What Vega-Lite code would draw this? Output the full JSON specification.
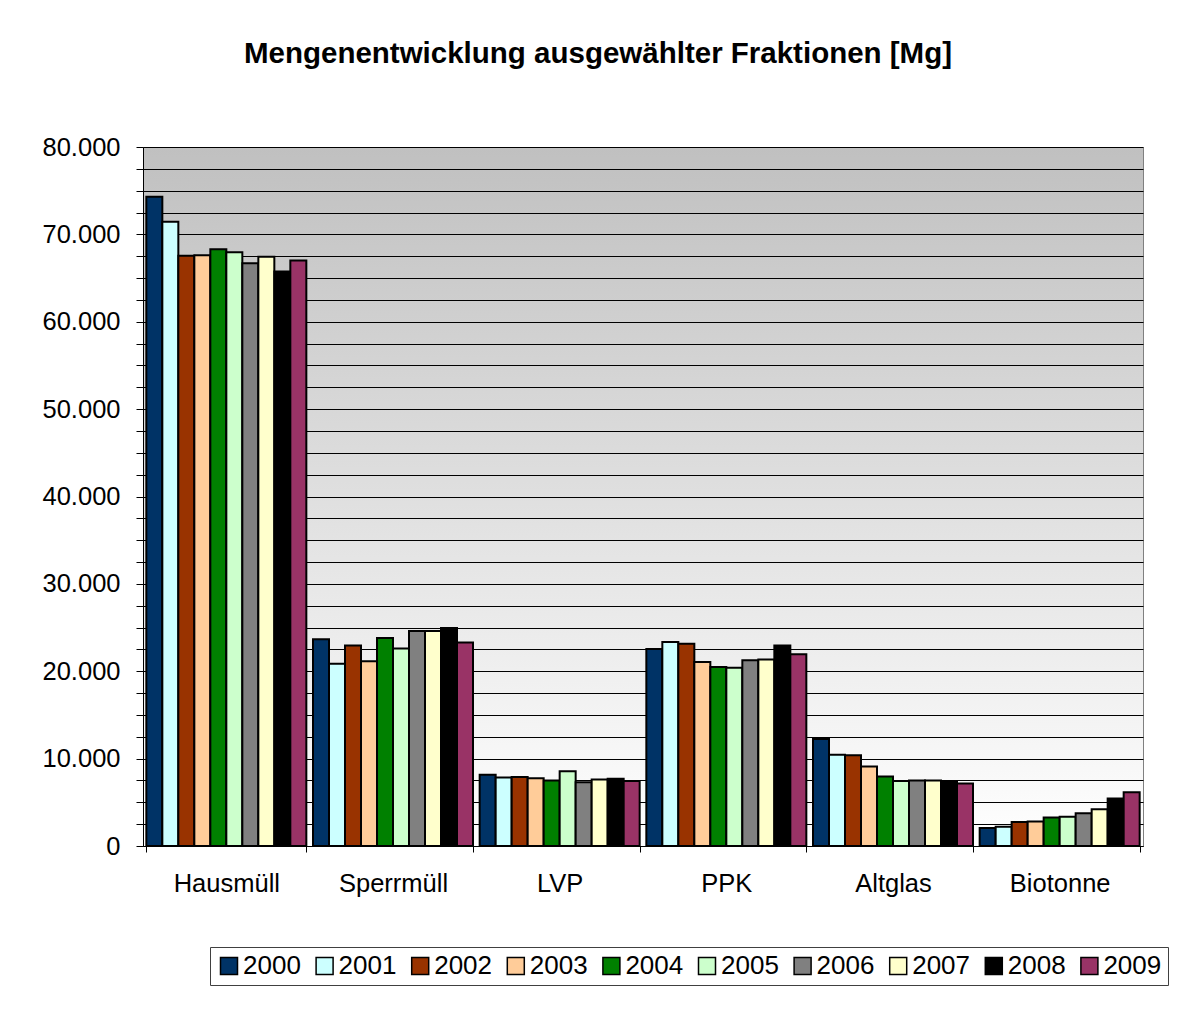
{
  "$schema": "https://vega.github.io/schema/vega-lite/v6.json",
  "width": 1000,
  "height": 699,
  "autosize": {"type": "none"},
  "padding": {"left": 143, "top": 147, "right": 43, "bottom": 186},
  "background": "white",
  "title": {
    "text": "Mengenentwicklung ausgewählter Fraktionen [Mg]",
    "font": "Liberation Sans",
    "fontSize": 29.5,
    "fontWeight": "bold",
    "color": "black",
    "anchor": "middle",
    "baseline": "alphabetic",
    "dx": -45,
    "offset": 43
  },
  "data": {
    "values": [
      {"Fraktion": "Hausmüll", "Jahr": "2000", "Menge": 74300},
      {"Fraktion": "Hausmüll", "Jahr": "2001", "Menge": 71450},
      {"Fraktion": "Hausmüll", "Jahr": "2002", "Menge": 67550},
      {"Fraktion": "Hausmüll", "Jahr": "2003", "Menge": 67600},
      {"Fraktion": "Hausmüll", "Jahr": "2004", "Menge": 68300},
      {"Fraktion": "Hausmüll", "Jahr": "2005", "Menge": 67950},
      {"Fraktion": "Hausmüll", "Jahr": "2006", "Menge": 66700},
      {"Fraktion": "Hausmüll", "Jahr": "2007", "Menge": 67450},
      {"Fraktion": "Hausmüll", "Jahr": "2008", "Menge": 65750},
      {"Fraktion": "Hausmüll", "Jahr": "2009", "Menge": 67000},
      {"Fraktion": "Sperrmüll", "Jahr": "2000", "Menge": 23650},
      {"Fraktion": "Sperrmüll", "Jahr": "2001", "Menge": 20850},
      {"Fraktion": "Sperrmüll", "Jahr": "2002", "Menge": 22950},
      {"Fraktion": "Sperrmüll", "Jahr": "2003", "Menge": 21150},
      {"Fraktion": "Sperrmüll", "Jahr": "2004", "Menge": 23800},
      {"Fraktion": "Sperrmüll", "Jahr": "2005", "Menge": 22600},
      {"Fraktion": "Sperrmüll", "Jahr": "2006", "Menge": 24600},
      {"Fraktion": "Sperrmüll", "Jahr": "2007", "Menge": 24600},
      {"Fraktion": "Sperrmüll", "Jahr": "2008", "Menge": 24950},
      {"Fraktion": "Sperrmüll", "Jahr": "2009", "Menge": 23300},
      {"Fraktion": "LVP", "Jahr": "2000", "Menge": 8150},
      {"Fraktion": "LVP", "Jahr": "2001", "Menge": 7850},
      {"Fraktion": "LVP", "Jahr": "2002", "Menge": 7900},
      {"Fraktion": "LVP", "Jahr": "2003", "Menge": 7750},
      {"Fraktion": "LVP", "Jahr": "2004", "Menge": 7500},
      {"Fraktion": "LVP", "Jahr": "2005", "Menge": 8550},
      {"Fraktion": "LVP", "Jahr": "2006", "Menge": 7300},
      {"Fraktion": "LVP", "Jahr": "2007", "Menge": 7600},
      {"Fraktion": "LVP", "Jahr": "2008", "Menge": 7700},
      {"Fraktion": "LVP", "Jahr": "2009", "Menge": 7450},
      {"Fraktion": "PPK", "Jahr": "2000", "Menge": 22550},
      {"Fraktion": "PPK", "Jahr": "2001", "Menge": 23350},
      {"Fraktion": "PPK", "Jahr": "2002", "Menge": 23150},
      {"Fraktion": "PPK", "Jahr": "2003", "Menge": 21050},
      {"Fraktion": "PPK", "Jahr": "2004", "Menge": 20500},
      {"Fraktion": "PPK", "Jahr": "2005", "Menge": 20400},
      {"Fraktion": "PPK", "Jahr": "2006", "Menge": 21250},
      {"Fraktion": "PPK", "Jahr": "2007", "Menge": 21350},
      {"Fraktion": "PPK", "Jahr": "2008", "Menge": 22950},
      {"Fraktion": "PPK", "Jahr": "2009", "Menge": 21950},
      {"Fraktion": "Altglas", "Jahr": "2000", "Menge": 12250},
      {"Fraktion": "Altglas", "Jahr": "2001", "Menge": 10450},
      {"Fraktion": "Altglas", "Jahr": "2002", "Menge": 10400},
      {"Fraktion": "Altglas", "Jahr": "2003", "Menge": 9100},
      {"Fraktion": "Altglas", "Jahr": "2004", "Menge": 7950},
      {"Fraktion": "Altglas", "Jahr": "2005", "Menge": 7450},
      {"Fraktion": "Altglas", "Jahr": "2006", "Menge": 7500},
      {"Fraktion": "Altglas", "Jahr": "2007", "Menge": 7500},
      {"Fraktion": "Altglas", "Jahr": "2008", "Menge": 7400},
      {"Fraktion": "Altglas", "Jahr": "2009", "Menge": 7150},
      {"Fraktion": "Biotonne", "Jahr": "2000", "Menge": 2050},
      {"Fraktion": "Biotonne", "Jahr": "2001", "Menge": 2200},
      {"Fraktion": "Biotonne", "Jahr": "2002", "Menge": 2750},
      {"Fraktion": "Biotonne", "Jahr": "2003", "Menge": 2800},
      {"Fraktion": "Biotonne", "Jahr": "2004", "Menge": 3250},
      {"Fraktion": "Biotonne", "Jahr": "2005", "Menge": 3350},
      {"Fraktion": "Biotonne", "Jahr": "2006", "Menge": 3750},
      {"Fraktion": "Biotonne", "Jahr": "2007", "Menge": 4200},
      {"Fraktion": "Biotonne", "Jahr": "2008", "Menge": 5450},
      {"Fraktion": "Biotonne", "Jahr": "2009", "Menge": 6150}
    ]
  },
  "mark": {"type": "bar", "stroke": "black", "strokeWidth": 2},
  "encoding": {
    "x": {
      "field": "Fraktion",
      "type": "nominal",
      "sort": ["Hausmüll", "Sperrmüll", "LVP", "PPK", "Altglas", "Biotonne"],
      "scale": {"paddingInner": 0.04, "paddingOuter": 0.02},
      "axis": {
        "title": null,
        "labelAngle": 0,
        "labelFont": "Liberation Sans",
        "labelFontSize": 25.5,
        "labelColor": "black",
        "labelPadding": 19,
        "tickBand": "extent",
        "tickSize": 6,
        "tickColor": "black",
        "domainColor": "black",
        "grid": false
      }
    },
    "xOffset": {
      "field": "Jahr",
      "type": "nominal",
      "scale": {"paddingInner": 0, "paddingOuter": 0}
    },
    "y": {
      "field": "Menge",
      "type": "quantitative",
      "scale": {"domain": [0, 80000], "nice": false},
      "axis": {
        "title": null,
        "values": [0, 2500, 5000, 7500, 10000, 12500, 15000, 17500, 20000, 22500, 25000, 27500, 30000, 32500, 35000, 37500, 40000, 42500, 45000, 47500, 50000, 52500, 55000, 57500, 60000, 62500, 65000, 67500, 70000, 72500, 75000, 77500, 80000],
        "labelExpr": "datum.value % 10000 == 0 ? replace(format(datum.value, ',.0f'), ',', '.') : ''",
        "labelOverlap": false,
        "labelFont": "Liberation Sans",
        "labelFontSize": 25.5,
        "labelColor": "black",
        "labelPadding": 16,
        "tickSize": 7,
        "tickColor": "black",
        "domainColor": "black",
        "grid": true,
        "gridColor": "black",
        "gridWidth": 1,
        "gridOpacity": 1
      }
    },
    "color": {
      "field": "Jahr",
      "type": "nominal",
      "scale": {
        "domain": ["2000", "2001", "2002", "2003", "2004", "2005", "2006", "2007", "2008", "2009"],
        "range": ["#003366", "#CCFFFF", "#993300", "#FFCC99", "#008000", "#CCFFCC", "#808080", "#FFFFCC", "#000000", "#993366"]
      },
      "legend": {
        "title": null,
        "orient": "none",
        "legendX": 67,
        "legendY": 800,
        "direction": "horizontal",
        "columns": 10,
        "labelFont": "Liberation Sans",
        "labelFontSize": 26,
        "labelColor": "black",
        "labelOffset": 1,
        "symbolType": "square",
        "symbolSize": 289,
        "symbolStrokeColor": "black",
        "symbolStrokeWidth": 1.5,
        "strokeColor": "#404040",
        "fillColor": "white",
        "padding": 6,
        "columnPadding": 10.6
      }
    }
  },
  "config": {
    "view": {
      "stroke": "#808080",
      "strokeWidth": 1,
      "fill": {
        "gradient": "linear",
        "x1": 0, "y1": 0, "x2": 0, "y2": 1,
        "stops": [
          {"offset": 0, "color": "#c0c0c0"},
          {"offset": 1, "color": "#ffffff"}
        ]
      }
    }
  }
}
